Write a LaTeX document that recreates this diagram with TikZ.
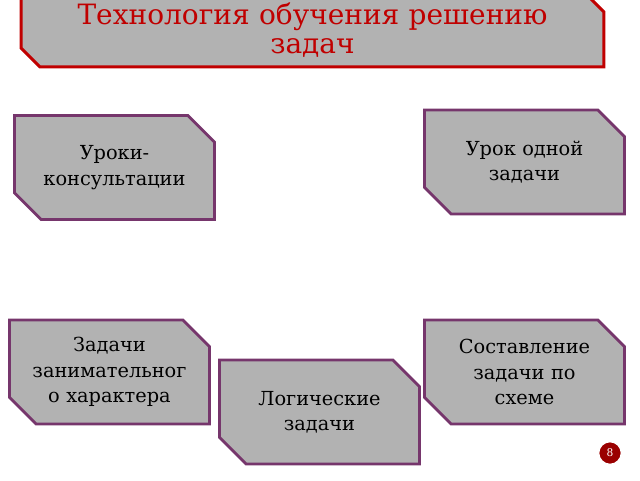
\documentclass[tikz,border=0pt]{standalone}
\usepackage{fontspec}
\setmainfont{DejaVu Serif}
\usetikzlibrary{shapes.misc}
\definecolor{boxgray}{RGB}{178,178,178}
\definecolor{boxline}{RGB}{118,54,108}
\definecolor{titlered}{RGB}{192,0,0}
\tikzset{
  card/.style={chamfered rectangle, chamfered rectangle corners={north east,south west},
    chamfered rectangle xsep=10pt, chamfered rectangle ysep=10pt, inner xsep=0pt, inner ysep=0pt,
    draw=boxline, line width=2.2pt, fill=boxgray, minimum width=150pt, minimum height=78pt,
    text width=128pt, align=center, font=\fontsize{14.5}{19}\selectfont},
}
\begin{document}
\begin{tikzpicture}[x=0.75pt,y=-0.75pt]
    \useasboundingbox (0,0) rectangle (640,480);
    % title
    \node[card, draw=titlered, text=titlered, minimum width=437pt, minimum height=46pt,
      chamfered rectangle xsep=7pt, chamfered rectangle ysep=7pt,
      text width=400pt, font=\fontsize{21}{22}\selectfont] (title) at (312.5,30) {Технология обучения решению\\задач};

    % cards
    \node[card] (consult) at (114.5,167.5) {Уроки-\\консультации};
    \node[card] (onetask) at (524.5,162) {Урок одной\\задачи};
    \node[card] (fun) at (109.5,372) {Задачи\\занимательног\\о характера};
    \node[card] (scheme) at (524.5,372) {Составление\\задачи по\\схеме};
    \node[card] (logic) at (319.5,412) {Логические\\задачи};

    % page number
    \node[circle, fill=titlered!80!black, draw=white, line width=1pt, minimum size=17pt, inner sep=0pt,
      text=white, font=\fontsize{8}{9}\selectfont] (page) at (610,453) {8};
\end{tikzpicture}
\end{document}
